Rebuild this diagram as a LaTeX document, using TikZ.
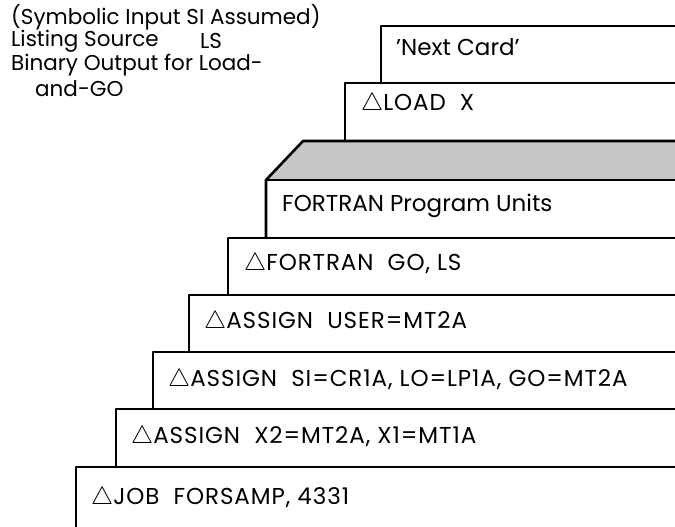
\documentclass[tikz,border=0pt]{standalone}
\usepackage{fontspec}
\setmainfont{Poppins}
\newfontfamily\capsfont[LetterSpace=4]{Poppins}
\newcommand\mydelta{$\triangle$}
\begin{document}
\begin{tikzpicture}[x=1pt,y=-1pt,
  cardline/.style={line width=2.6pt, line cap=round, line join=round},
  lbl/.style={anchor=west, inner sep=0pt, font=\fontsize{23}{26}\selectfont},
  capslbl/.style={lbl, font=\fontsize{23}{26}\capsfont},
  note/.style={anchor=west, inner sep=0pt, font=\fontsize{21.5}{24}\selectfont}]
\useasboundingbox (0,0) rectangle (675,527);
% notes
\node[note] (n1) at (11,17) {(Symbolic Input SI Assumed)};
\node[note] (n2) at (11,41) {Listing Source};
\node[note] (n2b) at (200,41) {LS};
\node[note] (n3) at (11,65) {Binary Output for Load-};
\node[note] (n4) at (35,89) {and-GO};
% shaded deck
\fill[gray!45] (303,141) -- (675,141) -- (675,180) -- (266,180) -- cycle;
\draw[cardline] (675,141) -- (303,141) -- (266,180) -- (266,238);
\draw[cardline] (266,180) -- (675,180);
% cards
\draw[cardline] (381,83) -- (381,26) -- (675,26);
\draw[cardline] (345,141) -- (345,83) -- (675,83);
\draw[cardline] (228,295) -- (228,238) -- (675,238);
\draw[cardline] (189,352) -- (189,295) -- (675,295);
\draw[cardline] (153,409) -- (153,352) -- (675,352);
\draw[cardline] (116,467) -- (116,409) -- (675,409);
\draw[cardline] (76,527) -- (76,467) -- (675,467);
% card texts
\node[lbl] (next) at (396,47) {'Next Card'};
\node[capslbl] (load) at (361,104) {\mydelta LOAD\ \ X};
\node[lbl] (pu) at (282,206) {FORTRAN Program Units};
\node[capslbl] (go) at (244,264) {\mydelta FORTRAN\ \ GO, LS};
\node[capslbl] (user) at (204,322) {\mydelta ASSIGN\ \ USER=MT2A};
\node[capslbl] (si) at (168,380) {\mydelta ASSIGN\ \ SI=CR1A, LO=LP1A, GO=MT2A};
\node[capslbl] (x2) at (131,437) {\mydelta ASSIGN\ \ X2=MT2A, X1=MT1A};
\node[capslbl] (job) at (91,498) {\mydelta JOB\ \ FORSAMP, 4331};
\end{tikzpicture}
\end{document}
